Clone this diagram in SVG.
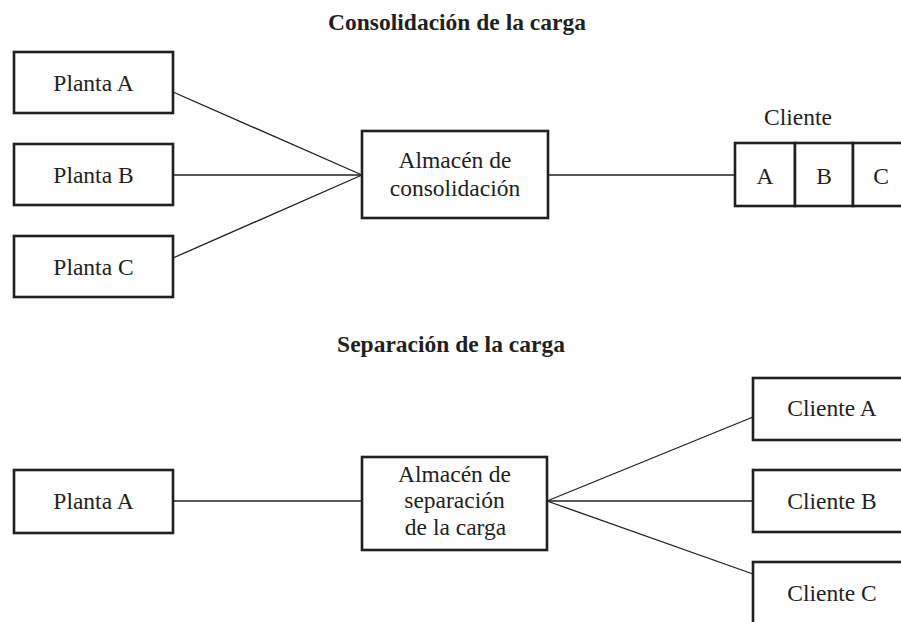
<svg xmlns="http://www.w3.org/2000/svg" width="901" height="622" viewBox="0 0 901 622">
<style>
.box{fill:#fff;stroke:#231f20;stroke-width:2.6}
.ln{stroke:#231f20;stroke-width:1.3;fill:none}
text{font-family:"Liberation Serif","Times New Roman",serif;fill:#231f20;font-size:23.5px;text-anchor:middle}
.t{font-weight:bold;font-size:23.5px}
</style>
<rect width="901" height="622" fill="#fff"/>
<text class="t" x="457" y="30">Consolidación de la carga</text>
<text class="t" x="451" y="352">Separación de la carga</text>
<g id="connectors">
<line class="ln" x1="173" y1="92" x2="362" y2="175"/>
<line class="ln" x1="173" y1="175" x2="362" y2="175"/>
<line class="ln" x1="173" y1="258" x2="362" y2="175"/>
<line class="ln" x1="548" y1="175" x2="735" y2="175"/>
<line class="ln" x1="173" y1="501" x2="362" y2="501"/>
<line class="ln" x1="547" y1="501" x2="753" y2="417"/>
<line class="ln" x1="547" y1="501" x2="753" y2="501"/>
<line class="ln" x1="547" y1="501" x2="753" y2="574"/>
</g>
<g id="plantaA1"><rect class="box" x="14" y="52" width="159" height="61"/><text x="93.5" y="91">Planta A</text></g>
<g id="plantaB1"><rect class="box" x="14" y="144" width="159" height="61"/><text x="93.5" y="183">Planta B</text></g>
<g id="plantaC1"><rect class="box" x="14" y="236" width="159" height="61"/><text x="93.5" y="275">Planta C</text></g>
<g id="almacen1"><rect class="box" x="362" y="131" width="186" height="87"/><text x="455" y="168">Almacén de</text><text x="455" y="196">consolidación</text></g>
<g id="cliente"><text x="798" y="125">Cliente</text>
<rect class="box" x="735" y="143" width="60" height="63"/><rect class="box" x="795" y="143" width="58" height="63"/><rect class="box" x="853" y="143" width="58" height="63"/>
<text x="765" y="184">A</text><text x="824" y="184">B</text><text x="881" y="184">C</text></g>
<g id="plantaA2"><rect class="box" x="14" y="470" width="159" height="63"/><text x="93.5" y="509">Planta A</text></g>
<g id="almacen2"><rect class="box" x="362" y="457" width="185" height="93"/><text x="454.5" y="482">Almacén de</text><text x="454.5" y="508">separación</text><text x="455.5" y="535">de la carga</text></g>
<g id="clienteA"><rect class="box" x="753" y="378" width="160" height="62"/><text x="832" y="416">Cliente A</text></g>
<g id="clienteB"><rect class="box" x="753" y="470" width="160" height="62"/><text x="832" y="509">Cliente B</text></g>
<g id="clienteC"><rect class="box" x="753" y="562" width="160" height="70"/><text x="832" y="601">Cliente C</text></g>
</svg>
